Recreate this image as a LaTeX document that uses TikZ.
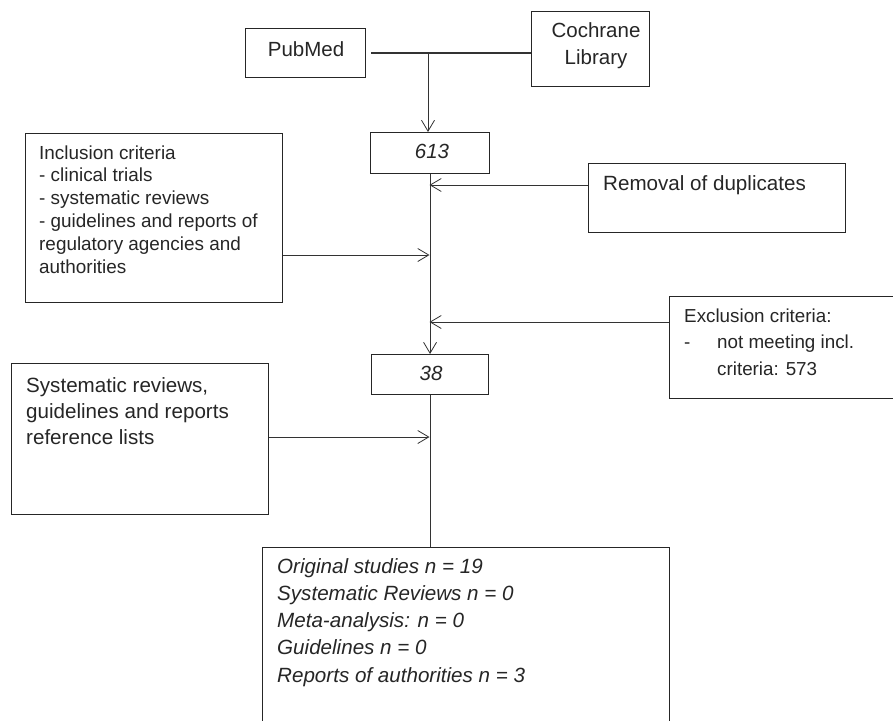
\documentclass[tikz,border=0pt]{standalone}
\usepackage{fontspec}
\setmainfont{Liberation Sans}
\usetikzlibrary{arrows.meta}
\begin{document}
\begin{tikzpicture}[x=1pt,y=-1pt,
  box/.style={draw=black!85, line width=1.1pt, anchor=north west, inner sep=0pt},
  txt/.style={inner sep=0pt, anchor=base west, text=black!85},
  ctxt/.style={inner sep=0pt, anchor=base, text=black!85},
  link/.style={draw=black!80, line width=0.8pt},
  arr/.style={link, -{Straight Barb[length=11pt,width=13pt]}}
]
\clip (0,0) rectangle (893,720);
\fill[white] (0,0) rectangle (893,720);

% boxes
\node[box, minimum width=120pt, minimum height=49pt] (pubmed) at (245,28) {};
\node[box, minimum width=118pt, minimum height=75pt] (cochrane) at (531,11) {};
\node[box, minimum width=119pt, minimum height=41pt] (n613) at (370,132) {};
\node[box, minimum width=257pt, minimum height=69pt] (removal) at (588,163) {};
\node[box, minimum width=257pt, minimum height=169pt] (incl) at (25,133) {};
\node[box, minimum width=260pt, minimum height=102pt] (excl) at (669,296) {};
\node[box, minimum width=117pt, minimum height=40pt] (n38) at (371,354) {};
\node[box, minimum width=257pt, minimum height=151pt] (sysrev) at (11,363) {};
\node[box, minimum width=407pt, minimum height=200pt] (final) at (262,547) {};

% texts
\node[ctxt] (pubmedT) at (306,56) {\fontsize{20.5}{26}\selectfont PubMed};
\node[ctxt] (cochraneT) at (596,37) {\parbox[t]{112pt}{\centering\fontsize{20.5}{27}\selectfont Cochrane\\Library}};
\node[ctxt] (n613T) at (432,158) {\fontsize{20.5}{26}\selectfont\itshape 613};
\node[ctxt] (n38T) at (431,380) {\fontsize{20.5}{26}\selectfont\itshape 38};
\node[txt] (removalT) at (603,190) {\fontsize{20.6}{26}\selectfont Removal of duplicates};
\node[txt] (inclT) at (39,159) {\parbox[t]{240pt}{\raggedright\fontsize{18.9}{22.8}\selectfont Inclusion criteria\\- clinical trials\\- systematic reviews\\- guidelines and reports of\\regulatory agencies and\\authorities}};
\node[txt] (exclT) at (684,322) {\parbox[t]{200pt}{\raggedright\fontsize{18.8}{26.5}\selectfont Exclusion criteria:\\\makebox[33pt][l]{-}not meeting incl.\\\hspace*{33pt}criteria: 573}};
\node[txt] (sysrevT) at (26,392) {\parbox[t]{240pt}{\raggedright\fontsize{20.6}{26}\selectfont Systematic reviews,\\guidelines and reports\\reference lists}};
\node[txt] (finalT) at (277,573) {\parbox[t]{380pt}{\raggedright\fontsize{20.6}{27.3}\selectfont\itshape Original studies n = 19\\Systematic Reviews n = 0\\Meta-analysis: n = 0\\Guidelines n = 0\\Reports of authorities n = 3}};

% connectors
\coordinate (jtop) at (428,52.5);
\draw[link, line width=2pt] ([xshift=5pt]pubmed.east) -- (pubmed.east -| cochrane.west);
\draw[arr] (jtop) -- (jtop |- n613.north);
\draw[arr] (n613.south) -- (n38.north);
\coordinate (jr) at (429.5,185);
\coordinate (ji) at (429.5,255);
\coordinate (je) at (429.5,322);
\coordinate (js) at (429.5,437);
\draw[arr] (removal.west |- jr) -- (jr);
\draw[arr] (incl.east |- ji) -- (ji);
\draw[arr] (excl.west |- je) -- (je);
\draw[arr] (sysrev.east |- js) -- (js);
\draw[link] (n38.south) -- (n38.south |- final.north);
\end{tikzpicture}
\end{document}
